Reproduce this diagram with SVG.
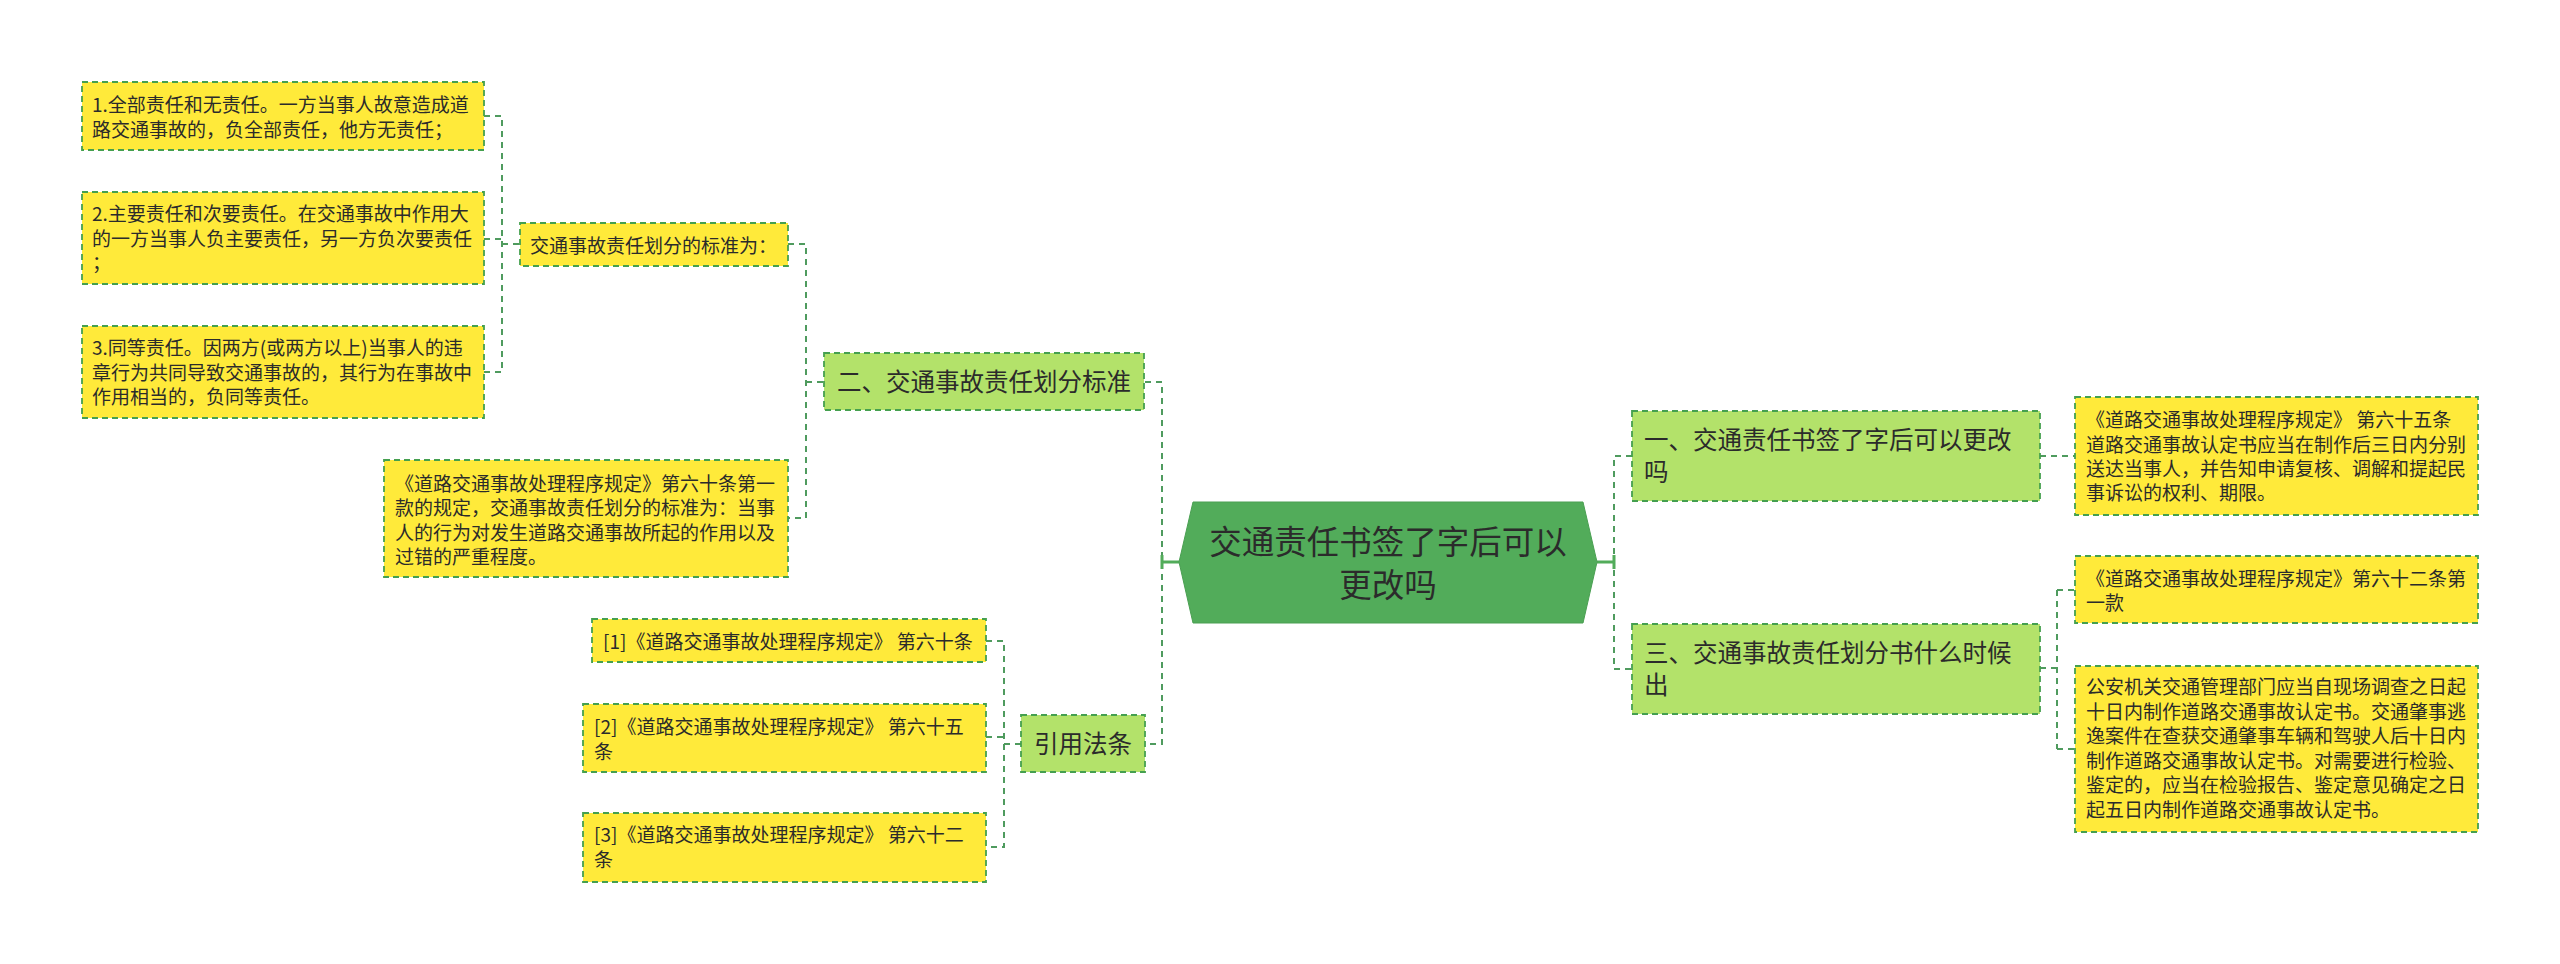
<svg xmlns="http://www.w3.org/2000/svg" width="2560" height="964" viewBox="0 0 2560 964">
<style>
.leaf{fill:#ffea3a;stroke:#45a04f;stroke-width:1.8;stroke-dasharray:6 4}
.sub{fill:#b3e26a;stroke:#45a04f;stroke-width:1.8;stroke-dasharray:6 4}
.t{font-family:"Noto Sans CJK SC","Noto Sans",sans-serif;fill:#2b2b2b}
.s{font-size:19px}
.m{font-size:24.5px}
.c{font-size:32.5px;text-anchor:middle}
.conn{fill:none;stroke:#4f9b5e;stroke-width:2;stroke-dasharray:6 5}
.solid{fill:none;stroke:#52ac5a;stroke-width:3}
</style>
<rect width="2560" height="964" fill="#ffffff"/>
<g id="connectors">
<path class="conn" d="M484 116 H502 V372 H484 M484 239 H502 M502 244 H520"/>
<path class="conn" d="M788 244 H806 V518 H788 M806 382 H824"/>
<path class="conn" d="M986 641 H1004 V847 H986 M986 737 H1004 M1004 744 H1021"/>
<path class="conn" d="M1145 382 H1162 V744 H1145"/>
<path class="solid" d="M1162 562 H1179 M1162 555 V569"/>
<path class="conn" d="M1632 456 H1614 V669 H1632"/>
<path class="solid" d="M1597 562 H1614 M1614 555 V569"/>
<path class="conn" d="M2040 456 H2075"/>
<path class="conn" d="M2040 668 H2057 M2057 590 V749 M2057 590 H2075 M2057 749 H2075"/>
</g>
<g id="center">
<polygon points="1179,562 1193,502 1583,502 1597,562 1583,623 1193,623" fill="#52ac5a" stroke="#4a9f52" stroke-width="1"/>
<text class="t c" x="1388" y="553.5">交通责任书签了字后可以</text>
<text class="t c" x="1388" y="596.5">更改吗</text>
</g>
<g id="n-er">
<rect class="sub" x="824" y="353" width="320" height="57"/>
<text class="t m" x="837" y="390.5">二、交通事故责任划分标准</text>
</g>
<g id="n-biaozhun">
<rect class="leaf" x="520" y="223" width="268" height="43"/>
<text class="t s" x="530" y="252.5">交通事故责任划分的标准为：</text>
</g>
<g id="n-1">
<rect class="leaf" x="82" y="82" width="402" height="68"/>
<text class="t s" x="92" y="112.3">1.全部责任和无责任。一方当事人故意造成道</text>
<text class="t s" x="92" y="136.8">路交通事故的，负全部责任，他方无责任；</text>
</g>
<g id="n-2">
<rect class="leaf" x="82" y="192" width="402" height="92"/>
<text class="t s" x="92" y="221">2.主要责任和次要责任。在交通事故中作用大</text>
<text class="t s" x="92" y="245.5">的一方当事人负主要责任，另一方负次要责任</text>
<text class="t s" x="92" y="270">；</text>
</g>
<g id="n-3">
<rect class="leaf" x="82" y="326" width="402" height="92"/>
<text class="t s" x="92" y="355">3.同等责任。因两方(或两方以上)当事人的违</text>
<text class="t s" x="92" y="379.5">章行为共同导致交通事故的，其行为在事故中</text>
<text class="t s" x="92" y="404">作用相当的，负同等责任。</text>
</g>
<g id="n-60">
<rect class="leaf" x="384" y="460" width="404" height="117"/>
<text class="t s" x="395" y="490.8">《道路交通事故处理程序规定》第六十条第一</text>
<text class="t s" x="395" y="515.3">款的规定，交通事故责任划分的标准为：当事</text>
<text class="t s" x="395" y="539.8">人的行为对发生道路交通事故所起的作用以及</text>
<text class="t s" x="395" y="564.3">过错的严重程度。</text>
</g>
<g id="n-yinyong">
<rect class="sub" x="1021" y="715" width="124" height="57"/>
<text class="t m" x="1034" y="752.5">引用法条</text>
</g>
<g id="n-ref1">
<rect class="leaf" x="592" y="619" width="394" height="43"/>
<text class="t s" x="603" y="648.5">[1]《道路交通事故处理程序规定》 第六十条</text>
</g>
<g id="n-ref2">
<rect class="leaf" x="583" y="704" width="403" height="68"/>
<text class="t s" x="594" y="733.5">[2]《道路交通事故处理程序规定》 第六十五</text>
<text class="t s" x="594" y="758.5">条</text>
</g>
<g id="n-ref3">
<rect class="leaf" x="583" y="813" width="403" height="69"/>
<text class="t s" x="594" y="842">[3]《道路交通事故处理程序规定》 第六十二</text>
<text class="t s" x="594" y="866.5">条</text>
</g>
<g id="n-yi">
<rect class="sub" x="1632" y="411" width="408" height="90"/>
<text class="t m" x="1644" y="448.5">一、交通责任书签了字后可以更改</text>
<text class="t m" x="1644" y="480.5">吗</text>
</g>
<g id="n-san">
<rect class="sub" x="1632" y="624" width="408" height="90"/>
<text class="t m" x="1644" y="661.5">三、交通事故责任划分书什么时候</text>
<text class="t m" x="1644" y="693.5">出</text>
</g>
<g id="n-65">
<rect class="leaf" x="2075" y="397" width="403" height="118"/>
<text class="t s" x="2086" y="426.5">《道路交通事故处理程序规定》 第六十五条</text>
<text class="t s" x="2086" y="451.5">道路交通事故认定书应当在制作后三日内分别</text>
<text class="t s" x="2086" y="475.5">送达当事人，并告知申请复核、调解和提起民</text>
<text class="t s" x="2086" y="499.5">事诉讼的权利、期限。</text>
</g>
<g id="n-62">
<rect class="leaf" x="2075" y="556" width="403" height="67"/>
<text class="t s" x="2086" y="585.5">《道路交通事故处理程序规定》第六十二条第</text>
<text class="t s" x="2086" y="609.5">一款</text>
</g>
<g id="n-gongan">
<rect class="leaf" x="2075" y="666" width="403" height="166"/>
<text class="t s" x="2086" y="694.3">公安机关交通管理部门应当自现场调查之日起</text>
<text class="t s" x="2086" y="718.8">十日内制作道路交通事故认定书。交通肇事逃</text>
<text class="t s" x="2086" y="743.3">逸案件在查获交通肇事车辆和驾驶人后十日内</text>
<text class="t s" x="2086" y="767.8">制作道路交通事故认定书。对需要进行检验、</text>
<text class="t s" x="2086" y="792.3">鉴定的，应当在检验报告、鉴定意见确定之日</text>
<text class="t s" x="2086" y="816.8">起五日内制作道路交通事故认定书。</text>
</g>
</svg>
